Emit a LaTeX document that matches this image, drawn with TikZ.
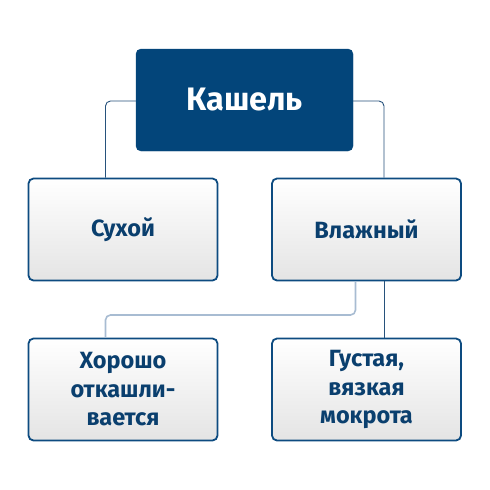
\documentclass[tikz,border=0pt]{standalone}
\usepackage{fontspec}
\setmainfont{Fira Sans}
\definecolor{navy}{HTML}{03457A}
\definecolor{boxline}{HTML}{0D4B80}
\definecolor{txtblue}{HTML}{0A3F6E}
\definecolor{conn}{HTML}{27527C}
\definecolor{lightconn}{HTML}{A8BCD2}
\definecolor{gradbot}{HTML}{E4E4E4}
\tikzset{
  x=1pt, y=-1pt,
  topbox/.style={draw=navy, fill=navy, rounded corners=5pt, minimum width=217pt, minimum height=102pt, text=white, font=\fontsize{32.5}{36}\selectfont\bfseries, inner sep=0pt},
  subbox/.style={draw=boxline, line width=1.8pt, rounded corners=5pt, top color=white, bottom color=gradbot, minimum width=189pt, minimum height=102pt, text=txtblue, font=\fontsize{23.5}{28.5}\selectfont\bfseries, align=center, inner sep=0pt},
  link/.style={draw=conn, line width=0.9pt, rounded corners=5pt},
  lightlink/.style={draw=lightconn, line width=1.6pt, rounded corners=5pt},
}
\begin{document}
\begin{tikzpicture}
\path[use as bounding box, fill=white] (0,0) rectangle (490,490);
\node[topbox] (top) at (244.5,100) {Кашель};
\node[subbox] (dry) at (123,229.5) {Сухой};
\node[subbox] (wet) at (366.5,229.5) {Влажный};
\node[subbox] (good) at (123,389.5) {Хорошо\\откашли-\\вается};
\node[subbox] (thick) at (366.5,389.5) {Густая,\\вязкая\\мокрота};
\path[link] (top.west |- 0,101) -- (105.5,101) -- (105.5,0 |- dry.north);
\path[link] (top.east |- 0,101) -- (384,101) -- (384,0 |- wet.north);
\path[lightlink] (355.5,0 |- wet.south) -- (355.5,315) -- (105.5,315) -- (105.5,0 |- good.north);
\path[link] (384,0 |- wet.south) -- (384,0 |- thick.north);
\end{tikzpicture}
\end{document}
